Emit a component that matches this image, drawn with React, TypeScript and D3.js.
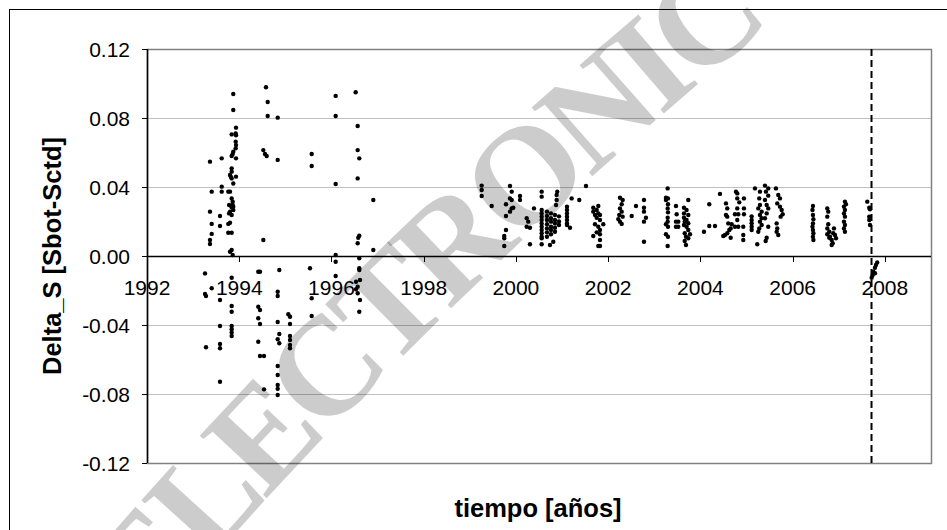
import React from 'react';
import * as d3 from 'd3';

// ---- chart data -------------------------------------------------------
// Each observation is [decimal year, Delta_S value]

type Obs = [number, number];

const yTickValues = [-0.12, -0.08, -0.04, 0, 0.04, 0.08, 0.12];
const yTickLabels = ['-0.12', '-0.08', '-0.04', '0.00', '0.04', '0.08', '0.12'];
const xTickValues = [1992, 1994, 1996, 1998, 2000, 2002, 2004, 2006, 2008];
const xTickLabels = ['1992', '1994', '1996', '1998', '2000', '2002', '2004', '2006', '2008'];
const cutoffYear = 2007.71;

const campaign1993: Obs[] = [
  [1993.871, 0.0939], [1993.871, 0.0846], [1993.93, 0.0744], [1993.923, 0.071], [1993.93, 0.07],
  [1993.836, 0.0705], [1993.923, 0.0663], [1993.93, 0.0643], [1993.923, 0.0624], [1993.871, 0.0605],
  [1993.858, 0.0591], [1993.836, 0.058], [1993.93, 0.0566], [1993.366, 0.0547], [1993.62, 0.0566],
  [1993.836, 0.0508], [1993.836, 0.0489], [1993.8, 0.047], [1993.817, 0.046], [1993.836, 0.045],
  [1993.93, 0.046], [1993.871, 0.042], [1993.403, 0.0373], [1993.62, 0.0402], [1993.62, 0.0373],
  [1993.763, 0.0373], [1993.8, 0.0373], [1993.836, 0.0334], [1993.858, 0.0315], [1993.858, 0.0296],
  [1993.836, 0.0282], [1993.871, 0.0267], [1993.78, 0.0296], [1993.8, 0.0257], [1993.836, 0.0238],
  [1993.78, 0.0247], [1993.871, 0.0286], [1993.366, 0.0257], [1993.583, 0.0232], [1993.403, 0.0186],
  [1993.583, 0.0174], [1993.8, 0.0193], [1993.763, 0.0186], [1993.403, 0.0128], [1993.366, 0.0093],
  [1993.366, 0.007], [1993.763, 0.0135], [1993.836, 0.0135], [1993.836, 0.0035], [1993.8, 0.0025],
  [1993.858, 0.0006],
  [1993.258, -0.0101], [1993.258, -0.022], [1993.279, -0.0232], [1993.403, -0.0187], [1993.836, -0.0126],
  [1993.583, -0.0255], [1993.836, -0.029], [1993.836, -0.0323], [1993.583, -0.0406], [1993.836, -0.0406],
  [1993.836, -0.0425], [1993.836, -0.0444], [1993.836, -0.0464], [1993.279, -0.0529], [1993.583, -0.051],
  [1993.583, -0.0535], [1993.583, -0.0729],
];

const campaign1994: Obs[] = [
  [1994.58, 0.0978], [1994.617, 0.0893], [1994.617, 0.0812], [1994.834, 0.0802], [1994.522, 0.0614],
  [1994.558, 0.0591], [1994.595, 0.058], [1994.834, 0.0557], [1994.522, 0.0093],
  [1994.413, -0.0091], [1994.45, -0.0091], [1994.869, -0.0081], [1994.834, -0.0207], [1994.834, -0.0232],
  [1994.413, -0.0294], [1994.45, -0.0313], [1994.413, -0.0361], [1994.45, -0.0394], [1995.064, -0.0338],
  [1995.101, -0.0352], [1994.834, -0.0383], [1995.101, -0.0394], [1994.869, -0.0452], [1994.834, -0.0483],
  [1995.101, -0.0464], [1995.101, -0.0487], [1995.101, -0.0516], [1995.101, -0.0535], [1994.869, -0.0506],
  [1994.413, -0.0497], [1994.45, -0.058], [1994.537, -0.058], [1994.834, -0.0638], [1994.834, -0.069],
  [1994.834, -0.0748], [1994.834, -0.077], [1994.834, -0.0806], [1994.537, -0.0773],
];

const campaign1996: Obs[] = [
  [1996.091, 0.0928], [1996.525, 0.0949], [1996.091, 0.0812], [1996.568, 0.0754], [1995.571, 0.0591],
  [1995.571, 0.0522], [1996.568, 0.0614], [1996.603, 0.0566], [1996.568, 0.045], [1996.091, 0.0417],
  [1996.907, 0.0325], [1996.603, 0.0118], [1996.581, 0.0106], [1996.568, 0.0074], [1996.907, 0.0035],
  [1996.091, 0.0006], [1996.091, -0.0033], [1996.603, -0.0013], [1995.534, -0.0071], [1996.091, -0.0116],
  [1996.603, -0.0071], [1996.603, -0.0081], [1996.618, -0.0139], [1996.532, -0.0149], [1996.568, -0.0178],
  [1996.532, -0.0193], [1996.568, -0.0216], [1996.618, -0.0255], [1996.603, -0.0323], [1995.571, -0.0245],
  [1995.571, -0.0348],
];

const campaign2000: Obs[] = [
  [1999.257, 0.0408], [1999.257, 0.0383], [1999.257, 0.0348], [1999.474, 0.029], [1999.871, 0.0406],
  [1999.908, 0.0373], [1999.871, 0.0334], [1999.908, 0.0325], [2000.088, 0.0348], [2000.088, 0.0325],
  [1999.784, 0.03], [1999.942, 0.028], [1999.908, 0.0276], [1999.871, 0.0257], [1999.784, 0.0232],
  [1999.784, 0.0151], [1999.747, 0.0116], [1999.747, 0.0103], [1999.747, 0.0058], [2000.304, 0.0068],
  [2000.233, 0.0219], [2000.267, 0.0199], [2000.233, 0.017], [2000.304, 0.0164], [2000.391, 0.0276],
  [2000.558, 0.0373], [2000.558, 0.0344], [2000.558, 0.0267], [2000.558, 0.0247], [2000.558, 0.0228],
  [2000.558, 0.0209], [2000.558, 0.0189], [2000.558, 0.017], [2000.558, 0.0151], [2000.558, 0.0132],
  [2000.558, 0.0112], [2000.558, 0.0103], [2000.558, 0.0068],
  [2000.673, 0.0257], [2000.673, 0.0232], [2000.673, 0.0209], [2000.673, 0.0184], [2000.673, 0.016],
  [2000.673, 0.0137], [2000.673, 0.0112], [2000.76, 0.0247], [2000.76, 0.0219], [2000.76, 0.0199],
  [2000.76, 0.017], [2000.76, 0.0151], [2000.76, 0.0126], [2000.846, 0.0238], [2000.846, 0.0209],
  [2000.846, 0.0189], [2000.846, 0.0164], [2000.846, 0.0141], [2000.933, 0.023], [2000.933, 0.02],
  [2000.933, 0.018], [2000.896, 0.0373], [2000.883, 0.0354], [2000.883, 0.0325], [2000.87, 0.0296],
  [2000.738, 0.0064], [2000.81, 0.0083],
  [2001.107, 0.0286], [2001.107, 0.0267], [2001.107, 0.0247], [2001.107, 0.0228], [2001.107, 0.0209],
  [2001.107, 0.0189], [2001.107, 0.018], [2001.172, 0.0164], [2001.208, 0.0334], [2001.373, 0.0325],
  [2001.519, 0.0406],
];

const campaign2002: Obs[] = [
  [2001.677, 0.028], [2001.786, 0.029], [2001.751, 0.0267], [2001.677, 0.0257], [2001.786, 0.0247],
  [2001.714, 0.0238], [2001.822, 0.0238], [2001.751, 0.0222], [2001.822, 0.0209], [2001.714, 0.0184],
  [2001.786, 0.017], [2001.894, 0.0184], [2001.822, 0.0151], [2001.751, 0.0137], [2001.822, 0.0126],
  [2001.677, 0.0116], [2001.822, 0.0093], [2001.786, 0.0058], [2001.822, 0.0058],
  [2002.256, 0.0338], [2002.314, 0.0325], [2002.293, 0.03], [2002.256, 0.0276], [2002.293, 0.0257],
  [2002.241, 0.0238], [2002.314, 0.0228], [2002.219, 0.0214], [2002.256, 0.0199], [2002.293, 0.0186],
  [2002.51, 0.0232], [2002.603, 0.029],
  [2002.776, 0.0325], [2002.776, 0.028], [2002.776, 0.0257], [2002.819, 0.0222], [2002.776, 0.0199],
  [2002.776, 0.0083],
  [2003.29, 0.0392], [2003.253, 0.0338], [2003.297, 0.0334], [2003.253, 0.0325], [2003.297, 0.03],
  [2003.29, 0.0276], [2003.297, 0.0253], [2003.29, 0.0222], [2003.29, 0.0199], [2003.253, 0.0184],
  [2003.297, 0.017], [2003.253, 0.0126], [2003.297, 0.0112], [2003.29, 0.0058],
  [2003.47, 0.029], [2003.485, 0.0242], [2003.47, 0.0199], [2003.52, 0.0199], [2003.47, 0.017],
  [2003.52, 0.017],
  [2003.737, 0.0325], [2003.644, 0.028], [2003.7, 0.0267], [2003.644, 0.0247], [2003.737, 0.0238],
  [2003.644, 0.0222], [2003.7, 0.0209], [2003.66, 0.0199], [2003.737, 0.019], [2003.644, 0.018],
  [2003.7, 0.017], [2003.737, 0.0151], [2003.66, 0.0132], [2003.774, 0.0126], [2003.687, 0.0112],
  [2003.737, 0.0103], [2003.66, 0.0087], [2003.687, 0.0064],
];

const campaign2005: Obs[] = [
  [2004.077, 0.0141], [2004.192, 0.03], [2004.192, 0.0174], [2004.316, 0.0174], [2004.424, 0.036],
  [2004.554, 0.0305], [2004.582, 0.0276], [2004.554, 0.0238], [2004.582, 0.0228], [2004.604, 0.0189],
  [2004.678, 0.0184], [2004.656, 0.016], [2004.626, 0.0151], [2004.582, 0.0132], [2004.533, 0.0122],
  [2004.496, 0.0116], [2004.656, 0.0106],
  [2004.771, 0.0373], [2004.799, 0.0363], [2004.799, 0.0334], [2004.843, 0.0311], [2004.799, 0.0276],
  [2004.749, 0.0242], [2004.821, 0.0242], [2004.799, 0.0209], [2004.821, 0.017], [2004.749, 0.017],
  [2004.929, 0.017], [2004.929, 0.0122], [2004.929, 0.0093], [2004.944, 0.0334], [2004.944, 0.0276],
  [2004.944, 0.0242],
  [2005.111, 0.023], [2005.111, 0.0209], [2005.111, 0.019], [2005.111, 0.017], [2005.111, 0.0151],
  [2005.183, 0.0392], [2005.291, 0.0373], [2005.276, 0.0334], [2005.291, 0.0296], [2005.255, 0.0276],
  [2005.328, 0.0257], [2005.291, 0.0238], [2005.328, 0.0219], [2005.291, 0.0199], [2005.328, 0.018],
  [2005.276, 0.016], [2005.255, 0.0141], [2005.233, 0.0068],
  [2005.4, 0.0408], [2005.471, 0.0392], [2005.421, 0.0373], [2005.471, 0.035], [2005.4, 0.0325],
  [2005.437, 0.0296], [2005.471, 0.0276], [2005.437, 0.0247], [2005.4, 0.0219], [2005.471, 0.017],
  [2005.437, 0.0106], [2005.415, 0.0087],
  [2005.638, 0.0392], [2005.688, 0.0354], [2005.725, 0.0334], [2005.666, 0.0305], [2005.725, 0.0286],
  [2005.762, 0.0267], [2005.784, 0.0242], [2005.74, 0.0228], [2005.653, 0.0189], [2005.666, 0.016],
  [2005.653, 0.0141], [2005.688, 0.0122],
];

const campaign2007: Obs[] = [
  [2006.44, 0.029], [2006.43, 0.0267], [2006.44, 0.0238], [2006.45, 0.0213], [2006.44, 0.0189],
  [2006.43, 0.017], [2006.44, 0.0151], [2006.45, 0.0132], [2006.44, 0.0112], [2006.45, 0.0093],
  [2006.751, 0.0276], [2006.772, 0.0257], [2006.751, 0.0228], [2006.772, 0.0184], [2006.751, 0.016],
  [2006.794, 0.0141], [2006.751, 0.0126], [2006.809, 0.0112], [2006.846, 0.0093], [2006.794, 0.0106],
  [2006.868, 0.0074], [2006.846, 0.0064], [2006.881, 0.0132], [2006.896, 0.016], [2006.918, 0.0122],
  [2006.94, 0.0103],
  [2007.134, 0.0315], [2007.156, 0.03], [2007.113, 0.0286], [2007.134, 0.0267], [2007.113, 0.0247],
  [2007.134, 0.0228], [2007.113, 0.0199], [2007.134, 0.018], [2007.113, 0.016], [2007.134, 0.0141],
  [2007.618, 0.0315], [2007.661, 0.028], [2007.677, 0.0271], [2007.661, 0.0228], [2007.661, 0.0209],
  [2007.677, 0.018],
  [2007.834, -0.0037], [2007.806, -0.0052], [2007.785, -0.0068], [2007.748, -0.0091], [2007.785, -0.01],
  [2007.735, -0.011], [2007.713, -0.0126],
];

const allObservations: Obs[] = [
  ...campaign1993, ...campaign1994, ...campaign1996, ...campaign2000,
  ...campaign2002, ...campaign2005, ...campaign2007,
];

// ---- layout -----------------------------------------------------------
const WIDTH = 947;
const HEIGHT = 530;
const plot = { left: 147, right: 931, top: 49, bottom: 463 };
const FONT = "'Liberation Sans', Arial, Helvetica, sans-serif";

export default function App() {
  const x = d3.scaleLinear().domain([1992, 2009]).range([plot.left, plot.right]);
  const y = d3.scaleLinear().domain([-0.12, 0.12]).range([plot.bottom, plot.top]);
  const y0 = Math.round(y(0));

  const gridValues = yTickValues.filter((v) => v !== 0 && Math.abs(v) < 0.12);

  return (
    <svg
      width={WIDTH}
      height={HEIGHT}
      style={{ position: 'fixed', left: 0, top: 0, background: '#fff' }}
      fontFamily={FONT}
    >
      <rect x={0} y={0} width={WIDTH} height={HEIGHT} fill="#fff" />
      {/* chart area frame */}
      <rect x={9.5} y={9.5} width={980} height={600} fill="none" stroke="#000" strokeWidth={1} />

      {/* horizontal gridlines */}
      {gridValues.map((v) => (
        <line
          key={`g${v}`}
          x1={plot.left}
          x2={plot.right}
          y1={Math.round(y(v)) + 0.5}
          y2={Math.round(y(v)) + 0.5}
          stroke="#c0c0c0"
          strokeWidth={1}
        />
      ))}

      {/* plot area border */}
      <rect
        x={plot.left + 0.5}
        y={plot.top + 0.5}
        width={plot.right - plot.left}
        height={plot.bottom - plot.top}
        fill="none"
        stroke="#808080"
        strokeWidth={1.5}
      />

      {/* y axis */}
      <line x1={plot.left + 0.5} x2={plot.left + 0.5} y1={plot.top} y2={plot.bottom} stroke="#000" strokeWidth={1.5} />
      {yTickValues.map((v, i) => (
        <g key={`yt${v}`}>
          <line
            x1={plot.left - 5}
            x2={plot.left}
            y1={Math.round(y(v)) + 0.5}
            y2={Math.round(y(v)) + 0.5}
            stroke="#000"
          />
          <text x={130} y={y(v) + 7.5} textAnchor="end" fontSize={21} fill="#000">
            {yTickLabels[i]}
          </text>
        </g>
      ))}

      {/* x axis along zero */}
      <line x1={plot.left} x2={plot.right} y1={y0 + 0.5} y2={y0 + 0.5} stroke="#000" strokeWidth={1.5} />
      {xTickValues.map((v, i) => (
        <g key={`xt${v}`}>
          <line x1={Math.round(x(v)) + 0.5} x2={Math.round(x(v)) + 0.5} y1={y0} y2={y0 + 6} stroke="#000" />
          <text x={x(v)} y={295} textAnchor="middle" fontSize={21} fill="#000">
            {xTickLabels[i]}
          </text>
        </g>
      ))}

      {/* cutoff marker */}
      <line
        x1={x(cutoffYear)}
        x2={x(cutoffYear)}
        y1={plot.top}
        y2={plot.bottom}
        stroke="#000"
        strokeWidth={2}
        strokeDasharray="7,4"
      />

      {/* observations */}
      {allObservations.map(([t, v], i) => (
        <circle key={i} cx={x(t)} cy={y(v)} r={2.2} fill="#000" />
      ))}

      {/* axis titles */}
      <text
        transform={`translate(61,256) rotate(-90)`}
        textAnchor="middle"
        fontSize={25.5}
        fontWeight="bold"
        fill="#000"
      >
        Delta_S [Sbot-Sctd]
      </text>
      <text x={538} y={517} textAnchor="middle" fontSize={25.5} fontWeight="bold" fill="#000">
        tiempo [años]
      </text>

      {/* watermark */}
      <defs>
        <path id="wm-arc" d="M152,628 Q478,246 884,-66" />
      </defs>
      <text
        fontFamily="'Liberation Serif', 'Times New Roman', serif"
        fontSize={140}
        fontWeight="bold"
        letterSpacing={-8}
        fill="#000"
        fillOpacity={0.2}
      >
        <textPath href="#wm-arc">ELECTRONIC</textPath>
      </text>
    </svg>
  );
}
